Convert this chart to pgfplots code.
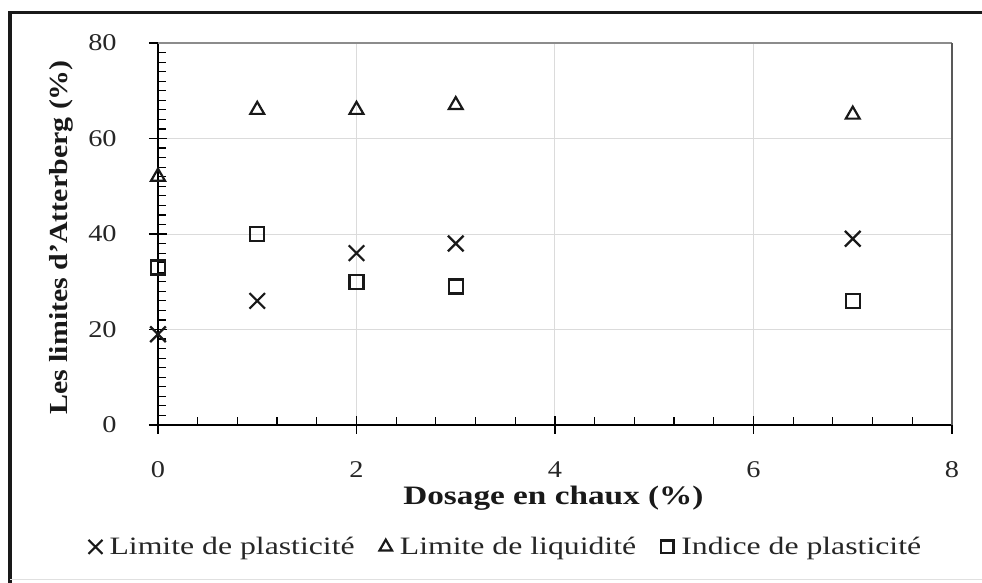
\documentclass[border=0pt]{standalone}
\usepackage{fontspec}
\setmainfont{Liberation Serif}
\usepackage{graphicx}
\usepackage{pgfplots}
\usepackage{pgfplotstable}
\pgfplotsset{compat=1.18}

% horizontal stretch used for the wide-set lettering
\newcommand{\hs}[2][1.2]{\scalebox{#1}[1]{#2}}

% dose (%) | limite de plasticite | limite de liquidite | indice de plasticite
\pgfplotstableread{
dose LP LL IP
0 19 52 33
1 26 66 40
2 36 66 30
3 38 67 29
7 39 65 26
}\atterberg

\begin{document}
\begin{tikzpicture}
\useasboundingbox (0pt,0pt) rectangle (491pt,291.5pt);
% outer frame
\draw[line width=1.6pt, black!90] (5pt,0pt) -- (5pt,285.25pt) -- (491pt,285.25pt);
\draw[line width=0.5pt, black!12] (5pt,1.5pt) -- (491pt,1.5pt);

\begin{axis}[
  at={(79pt,79pt)}, anchor=south west,
  scale only axis, width=397pt, height=191pt,
  xmin=0, xmax=8, ymin=0, ymax=80,
  xtick={0,2,...,8}, ytick={0,20,...,80},
  minor x tick num=4, minor y tick num=9,
  axis lines=left,
  axis line style={-, line width=1pt, black},
  tick align=center,
  major tick length=9pt, minor tick length=4pt,
  every minor x tick/.append style={yshift=2pt},
  every minor y tick/.append style={xshift=2pt},
  tick style={black, line width=0.6pt},
  grid=major,
  major grid style={black!14, line width=0.5pt},
  clip=false,
  /pgf/number format/assume math mode=true,
  xticklabel={\hs[1.18]{\pgfmathprintnumber{\tick}}},
  yticklabel={\hs[1.18]{\pgfmathprintnumber{\tick}}},
  ticklabel style={font=\fontsize{12}{14}\selectfont, text=black!85},
  xticklabel style={anchor=north, inner sep=0pt, yshift=-13.5pt},
  yticklabel style={anchor=east, inner sep=0pt, xshift=-16pt},
  xlabel={\hs[1.25]{Dosage en chaux (\%)}},
  xlabel style={font=\bfseries\fontsize{13.3}{16}\selectfont, text=black!90,
    at={(axis description cs:0.498,-0.209)}, anchor=base},
  ylabel={\hs[1.15]{Les limites d'Atterberg (\%)}},
  ylabel style={font=\bfseries\fontsize{13}{16}\selectfont, text=black!90,
    at={(axis description cs:-0.1146,0.491)}, anchor=base},
  legend columns=3,
  legend style={draw=none, fill=none, inner sep=0pt,
    at={(0.438,-0.319)}, anchor=center,
    font=\fontsize{12.5}{15}\selectfont, text=black!85,
    nodes={inner sep=1pt},
    /tikz/every even column/.append style={column sep=11pt}},
  legend image code/.code={%
    \path (-3pt,0pt) (5.5pt,0pt);
    \draw[#1, mark options={scale=0.9}] plot coordinates {(0pt,0pt)};},
]
\draw[black!45, line width=0.8pt] (rel axis cs:0,1) -- (rel axis cs:1,1);
\draw[black!65, line width=0.9pt] (rel axis cs:1,1) -- (rel axis cs:1,0);

\addplot[only marks, mark=x, mark size=5.5pt, line width=1.1pt, black!90]
  table[x=dose, y=LP] {\atterberg};
\addlegendentry{\hs[1.27]{Limite de plasticité}}
\addplot[only marks, mark=triangle, mark size=4pt, line width=1.1pt, black!90]
  table[x=dose, y=LL] {\atterberg};
\addlegendentry{\hs[1.27]{Limite de liquidité}}
\addplot[only marks, mark=square, mark size=3.5pt, line width=1.1pt, black!90]
  table[x=dose, y=IP] {\atterberg};
\addlegendentry{\hs[1.27]{Indice de plasticité}}
\end{axis}
\end{tikzpicture}
\end{document}
